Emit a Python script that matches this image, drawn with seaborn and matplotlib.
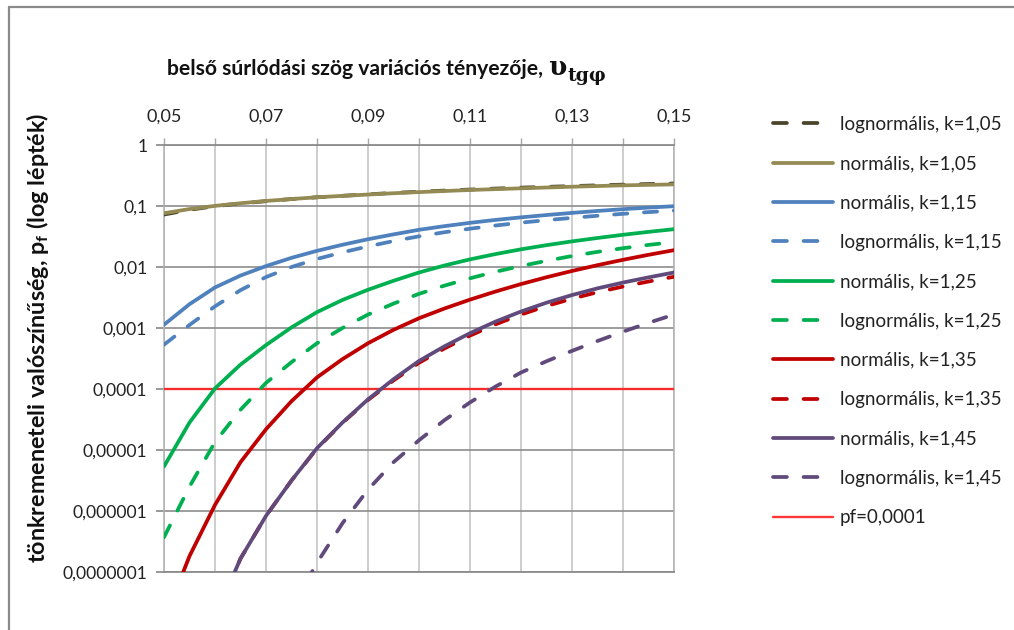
import numpy as np
import pandas as pd
import matplotlib
matplotlib.use("Agg")
import matplotlib.pyplot as plt
import seaborn as sns
from matplotlib.lines import Line2D
from matplotlib.ticker import FixedLocator, NullFormatter

# ---------------- data ----------------
nan = float("nan")
v_tg = [0.05, 0.055, 0.06, 0.065, 0.07, 0.075, 0.08, 0.085, 0.09, 0.095,
        0.10, 0.105, 0.11, 0.115, 0.12, 0.125, 0.13, 0.135, 0.14, 0.145, 0.15]

lognorm_105 = [0.0724, 0.0867, 0.0993, 0.110, 0.120, 0.130, 0.139, 0.147, 0.155, 0.164,
               0.171, 0.179, 0.186, 0.193, 0.200, 0.206, 0.212, 0.218, 0.224, 0.229, 0.234]
norm_105 = [0.0762, 0.0891, 0.1005, 0.111, 0.121, 0.130, 0.139, 0.1466, 0.154, 0.162,
            0.169, 0.176, 0.183, 0.189, 0.195, 0.201, 0.207, 0.2125, 0.218, 0.222, 0.226]
norm_115 = [1.132e-3, 2.455e-3, 4.62e-3, 7.24e-3, 1.035e-2, 1.413e-2, 1.841e-2, 2.317e-2,
            2.851e-2, 3.428e-2, 4.074e-2, 4.677e-2, 5.297e-2, 5.916e-2, 6.516e-2, 7.112e-2,
            7.709e-2, 8.299e-2, 8.872e-2, 9.419e-2, 9.931e-2]
lognorm_115 = [5.33e-4, 1.122e-3, 2.265e-3, 4.169e-3, 6.839e-3, 1.0e-2, 1.355e-2, 1.738e-2,
               2.178e-2, 2.661e-2, 3.184e-2, 3.715e-2, 4.246e-2, 4.786e-2, 5.333e-2, 5.861e-2,
               6.383e-2, 6.918e-2, 7.447e-2, 7.943e-2, 8.414e-2]
norm_125 = [5.37e-6, 2.818e-5, 1.023e-4, 2.512e-4, 5.248e-4, 1.023e-3, 1.82e-3, 2.884e-3,
            4.236e-3, 5.943e-3, 8.128e-3, 1.059e-2, 1.334e-2, 1.629e-2, 1.95e-2, 2.28e-2,
            2.63e-2, 2.992e-2, 3.373e-2, 3.767e-2, 4.169e-2]
lognorm_125 = [3.715e-7, 2.512e-6, 1.349e-5, 4.571e-5, 1.259e-4, 2.754e-4, 5.623e-4, 1.0e-3,
               1.66e-3, 2.512e-3, 3.631e-3, 4.955e-3, 6.531e-3, 8.356e-3, 1.04e-2, 1.262e-2,
               1.514e-2, 1.77e-2, 2.032e-2, 2.301e-2, 2.57e-2]
norm_135 = [1.585e-8, 1.82e-7, 1.259e-6, 6.31e-6, 2.188e-5, 6.31e-5, 1.549e-4, 3.09e-4,
            5.623e-4, 9.333e-4, 1.445e-3, 2.089e-3, 2.917e-3, 3.963e-3, 5.248e-3, 6.792e-3,
            8.61e-3, 1.072e-2, 1.312e-2, 1.585e-2, 1.888e-2]
lognorm_135 = [nan, nan, 1.778e-8, 1.66e-7, 8.318e-7, 3.162e-6, 1.059e-5, 2.786e-5,
               6.607e-5, 1.38e-4, 2.692e-4, 4.624e-4, 7.499e-4, 1.148e-3, 1.66e-3, 2.291e-3,
               3.02e-3, 3.864e-3, 4.775e-3, 5.781e-3, 6.918e-3]
norm_145 = [nan, nan, 1.778e-8, 1.66e-7, 8.318e-7, 3.162e-6, 1.072e-5, 2.818e-5,
            6.761e-5, 1.445e-4, 2.884e-4, 5.012e-4, 8.222e-4, 1.274e-3, 1.862e-3, 2.6e-3,
            3.467e-3, 4.467e-3, 5.559e-3, 6.761e-3, 8.128e-3]
lognorm_145 = [nan, nan, nan, nan, nan, 2.512e-8, 1.413e-7, 6.31e-7,
               2.239e-6, 6.31e-6, 1.445e-5, 3.09e-5, 6.026e-5, 1.096e-4, 1.862e-4, 2.851e-4,
               4.217e-4, 6.124e-4, 8.71e-4, 1.216e-3, 1.66e-3]
pf_limit_x = [0.05, 0.15]
pf_limit = [1e-4, 1e-4]

series_labels = ["lognormális, k=1,05", "normális, k=1,05", "normális, k=1,15",
                 "lognormális, k=1,15", "normális, k=1,25", "lognormális, k=1,25",
                 "normális, k=1,35", "lognormális, k=1,35", "normális, k=1,45",
                 "lognormális, k=1,45"]
series_values = [lognorm_105, norm_105, norm_115, lognorm_115, norm_125, lognorm_125,
                 norm_135, lognorm_135, norm_145, lognorm_145]
limit_label = "pf=0,0001"

x_ticks = [0.05, 0.07, 0.09, 0.11, 0.13, 0.15]
x_ticklabels = ["0,05", "0,07", "0,09", "0,11", "0,13", "0,15"]
x_minor = [0.06, 0.08, 0.10, 0.12, 0.14]
y_ticks = [1, 0.1, 0.01, 0.001, 1e-4, 1e-5, 1e-6, 1e-7]
y_ticklabels = ["1", "0,1", "0,01", "0,001", "0,0001", "0,00001", "0,000001", "0,0000001"]

title_main = "belső súrlódási szög variációs tényezője, "
title_sym = "υ"
title_sub = "tgφ"
ylabel = r"tönkremeneteli valószínűség, $\mathbf{p}_\mathbf{f}$ (log lépték)"

# ---------------- styles ----------------
colors = ["#4a452a", "#948a54", "#4f81bd", "#4f81bd", "#00b050", "#00b050",
          "#c00000", "#c00000", "#604a7b", "#604a7b"]
dashed = [True, False, False, True, False, True, False, True, False, True]
LW = 2.7
DASH = [9.5 / LW, 12.0 / LW]
DASH_LEG = [10.0 / LW, 12.0 / LW]

sns.set_theme(style="white")
FONT = ["Lato", "DejaVu Sans"]
plt.rcParams["font.family"] = FONT
plt.rcParams["mathtext.fontset"] = "custom"
plt.rcParams["mathtext.rm"] = "Lato"
plt.rcParams["mathtext.bf"] = "Lato:bold"

W, H = 1014, 630
fig = plt.figure(figsize=(W / 100, H / 100), dpi=100)
fig.patch.set_facecolor("white")
ax = fig.add_axes([164 / W, 1 - 572 / H, 510 / W, 427 / H])

rows = []
for lab, vals in zip(series_labels, series_values):
    for xv, yv in zip(v_tg, vals):
        rows.append({"v": xv, "pf": yv, "series": lab})
df = pd.DataFrame(rows)

# threshold line
lim_df = pd.DataFrame({"v": pf_limit_x, "pf": pf_limit})
sns.lineplot(data=lim_df, x="v", y="pf", ax=ax, color="#ff2020", lw=1.7,
             alpha=0.9, zorder=3)

handles = []
for lab, col, ds in zip(series_labels, colors, dashed):
    sub = df[df["series"] == lab].dropna()
    sns.lineplot(data=sub, x="v", y="pf", ax=ax, color=col, lw=LW, zorder=4,
                 sort=True, estimator=None)
    ln = ax.lines[-1]
    ln.set_solid_capstyle("round")
    ln.set_solid_joinstyle("round")
    ln.set_dash_joinstyle("round")
    if ds:
        ln.set_dashes(DASH)
        ln.set_dash_capstyle("round")
    h = Line2D([0], [0], color=col, lw=LW)
    if ds:
        h.set_dashes(DASH_LEG)
        h.set_dash_capstyle("round")
    handles.append(h)

hl = Line2D([0], [0], color="#ff2020", lw=1.7, alpha=0.9)
handles.append(hl)
labels = series_labels + [limit_label]

ax.set_yscale("log")
ax.set_xlim(0.05, 0.15)
ax.set_ylim(1e-7, 1)

# ticks
ax.xaxis.tick_top()
ax.xaxis.set_major_locator(FixedLocator(x_ticks))
ax.set_xticklabels(x_ticklabels)
ax.xaxis.set_minor_locator(FixedLocator(x_minor))
ax.xaxis.set_minor_formatter(NullFormatter())
ax.yaxis.set_major_locator(FixedLocator(y_ticks))
ax.set_yticklabels(y_ticklabels)
ax.yaxis.set_minor_locator(FixedLocator([]))
ax.tick_params(axis="x", which="both", top=True, bottom=False, length=5,
               width=1.0, color="#a6a6a6", pad=10, labelsize=13, labelcolor="#222222")
ax.tick_params(axis="y", which="both", left=True, length=6, width=1.2,
               color="#868686", pad=6, labelsize=12.6, labelcolor="#222222")
ax.set_xlabel("")
ax.set_ylabel("")

ax.grid(False)
for xv in x_ticks + x_minor:
    ax.axvline(xv, color="#c0c0c0", lw=1.1, zorder=1)
for yv in y_ticks:
    ax.axhline(yv, color="#8c8c8c", lw=1.2, zorder=1)

for side in ["top", "bottom"]:
    ax.spines[side].set_color("#8c8c8c")
    ax.spines[side].set_linewidth(1.3)
for side in ["left", "right"]:
    ax.spines[side].set_color("#b0b0b0")
    ax.spines[side].set_linewidth(1.1)

# y label
fig.text(38 / W, 1 - 338 / H, ylabel, rotation=90, ha="center", va="center",
         fontsize=16.8, fontweight="bold", color="#111111")

# title with symbol and subscript
t1 = fig.text(167 / W, 1 - 75 / H, title_main, ha="left", va="baseline",
              fontsize=15.2, fontweight="bold", color="#111111")
fig.canvas.draw()
bb = t1.get_window_extent()
t2 = fig.text(bb.x1 / W, 1 - 75 / H, title_sym, ha="left", va="baseline",
              fontsize=19, fontweight="bold", family=["DejaVu Serif"], color="#111111")
fig.canvas.draw()
bb2 = t2.get_window_extent()
fig.text(bb2.x1 / W + 1 / W, 1 - 81 / H, title_sub, ha="left", va="baseline",
         fontsize=13.5, fontweight="bold", family=["DejaVu Serif"], color="#111111")

# legend
leg = fig.legend(handles, labels, loc="upper left",
                 bbox_to_anchor=(773 / W, 1 - 116 / H), bbox_transform=fig.transFigure,
                 frameon=False, fontsize=13.5, handlelength=3.2, handletextpad=0.37,
                 labelspacing=1.19, borderpad=0, borderaxespad=0)
for t in leg.get_texts():
    t.set_color("#222222")

# chart-area border (left and top visible)
fig.add_artist(Line2D([8.5 / W, 8.5 / W], [0, 1 - 6.5 / H], transform=fig.transFigure,
                      color="#8a8a8a", lw=1.6))
fig.add_artist(Line2D([8.5 / W, 1], [1 - 6.5 / H, 1 - 6.5 / H], transform=fig.transFigure,
                      color="#8a8a8a", lw=1.6))

fig.savefig("out.png", dpi=100, facecolor="white")
